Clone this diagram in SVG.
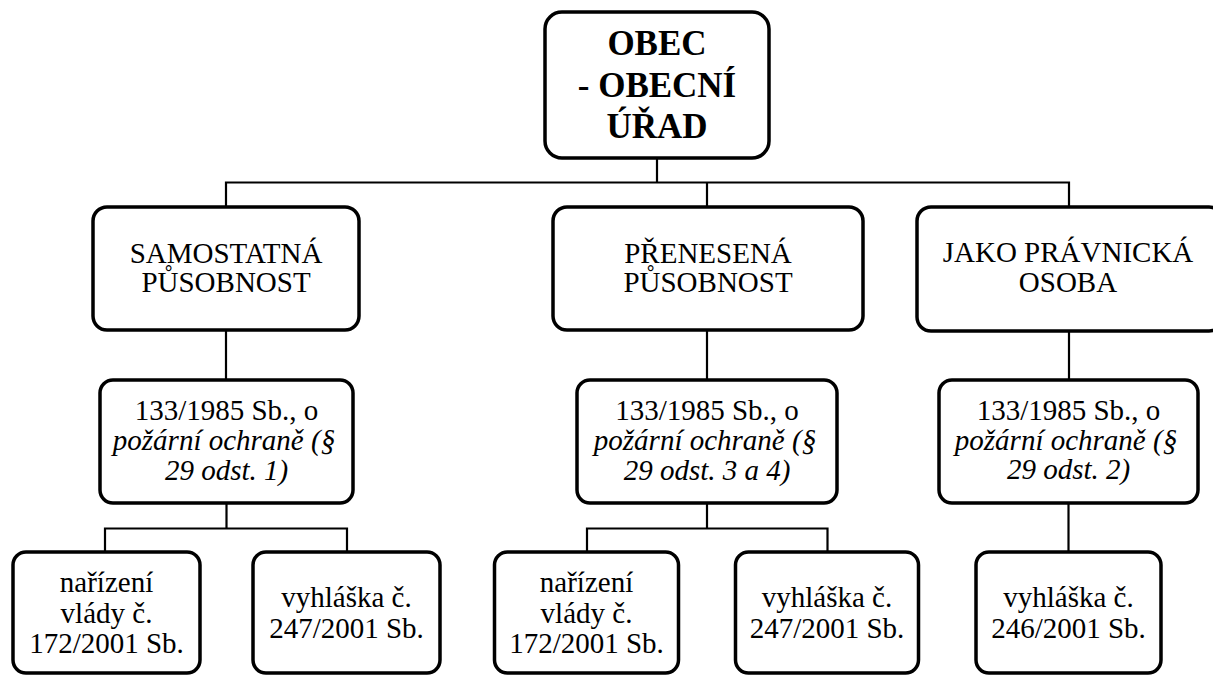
<svg xmlns="http://www.w3.org/2000/svg" width="1213" height="675" viewBox="0 0 1213 675">
<style>
.box{fill:#fff;stroke:#000;stroke-width:3.5}
.conn{fill:none;stroke:#000;stroke-width:2.2}
text{font-family:"Liberation Serif","Times New Roman",serif;font-size:29px;fill:#000;text-anchor:middle}
.title{font-size:35px;font-weight:bold}
.it{font-style:italic}
</style>
<rect width="1213" height="675" fill="#fff"/>
<g id="connectors">
<path class="conn" d="M657 158V182.5M226 207V182.5H1069V207M707 182.5V207"/>
<path class="conn" d="M226 330V380M707 330V380M1069 331V380"/>
<path class="conn" d="M226.5 503V528.5M105 552V528.5H347V552"/>
<path class="conn" d="M707 503V528.5M587 552V528.5H827.5V552"/>
<path class="conn" d="M1068.5 503V552"/>
</g>
<g id="obec">
<rect class="box" x="545" y="12" width="224" height="146" rx="17"/>
<text class="title" x="657" y="55">OBEC</text>
<text class="title" x="657" y="97">- OBECNÍ</text>
<text class="title" x="657" y="138">ÚŘAD</text>
</g>
<g id="samostatna">
<rect class="box" x="93" y="207" width="266" height="123" rx="14"/>
<text x="226" y="263">SAMOSTATNÁ</text>
<text x="226" y="292">PŮSOBNOST</text>
</g>
<g id="prenesena">
<rect class="box" x="553" y="207" width="310" height="123" rx="14"/>
<text x="708" y="263">PŘENESENÁ</text>
<text x="708" y="292">PŮSOBNOST</text>
</g>
<g id="pravnicka">
<rect class="box" x="917" y="207" width="306" height="124" rx="14"/>
<text x="1068" y="262">JAKO PRÁVNICKÁ</text>
<text x="1068" y="292">OSOBA</text>
</g>
<g id="zakon1">
<rect class="box" x="100" y="380" width="253" height="123" rx="13"/>
<text x="226.5" y="420">133/1985 Sb., o</text>
<text class="it" x="224" y="450">požární ochraně (§</text>
<text class="it" x="226.5" y="480">29 odst. 1)</text>
</g>
<g id="zakon2">
<rect class="box" x="577" y="380" width="260" height="123" rx="13"/>
<text x="707" y="420">133/1985 Sb., o</text>
<text class="it" x="705" y="450">požární ochraně (§</text>
<text class="it" x="707" y="480">29 odst. 3 a 4)</text>
</g>
<g id="zakon3">
<rect class="box" x="939" y="380" width="259" height="123" rx="13"/>
<text x="1068.5" y="420">133/1985 Sb., o</text>
<text class="it" x="1066" y="450">požární ochraně (§</text>
<text class="it" x="1068.5" y="479">29 odst. 2)</text>
</g>
<g id="narizeni1">
<rect class="box" x="13" y="552" width="187" height="121" rx="13"/>
<text x="106.5" y="592">nařízení</text>
<text x="106.5" y="622.5">vlády č.</text>
<text x="106.5" y="653">172/2001 Sb.</text>
</g>
<g id="vyhlaska1">
<rect class="box" x="253" y="552" width="187" height="121" rx="13"/>
<text x="346.5" y="607">vyhláška č.</text>
<text x="346.5" y="638">247/2001 Sb.</text>
</g>
<g id="narizeni2">
<rect class="box" x="494.5" y="552" width="184" height="121" rx="13"/>
<text x="586.5" y="592">nařízení</text>
<text x="586.5" y="622.5">vlády č.</text>
<text x="586.5" y="653">172/2001 Sb.</text>
</g>
<g id="vyhlaska2">
<rect class="box" x="735.5" y="552" width="183" height="121" rx="13"/>
<text x="827" y="607">vyhláška č.</text>
<text x="827" y="638">247/2001 Sb.</text>
</g>
<g id="vyhlaska3">
<rect class="box" x="976" y="552" width="185" height="121" rx="13"/>
<text x="1068.5" y="607">vyhláška č.</text>
<text x="1068.5" y="638">246/2001 Sb.</text>
</g>
</svg>
